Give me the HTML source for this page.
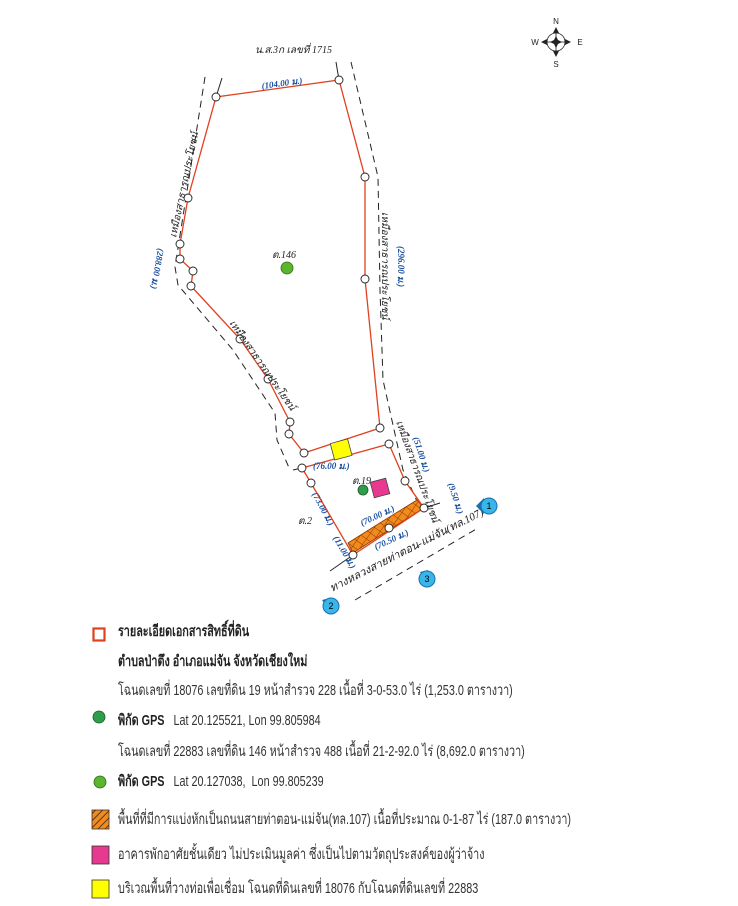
<!DOCTYPE html>
<html><head><meta charset="utf-8"><style>
html,body{margin:0;padding:0;background:#fff;}
body{width:738px;height:906px;position:relative;overflow:hidden;font-family:"Liberation Sans",sans-serif;}
svg{position:absolute;left:0;top:0;}
.lg{position:absolute;left:118px;font-size:15px;color:#333;white-space:nowrap;line-height:16px;transform:scaleX(0.72);transform-origin:0 0;}
.b{font-weight:bold;color:#222;}
</style></head><body>
<svg width="738" height="906" viewBox="0 0 738 906">
<defs>
<pattern id="hx" width="7" height="7" patternUnits="userSpaceOnUse" patternTransform="rotate(35)">
<rect width="7" height="7" fill="#f28a1e"/>
<path d="M0 0L7 0M0 0L0 7" stroke="#8a3a00" stroke-width="1"/>
</pattern>
<pattern id="lh" width="5" height="5" patternUnits="userSpaceOnUse" patternTransform="rotate(45)">
<rect width="5" height="5" fill="#f28a1e"/><path d="M0 0L0 5" stroke="#222" stroke-width="1.5"/>
</pattern>
</defs>
<g fill="none" stroke="#222" stroke-width="1" stroke-dasharray="7,5">
<polyline points="205,77 175,267 178,285 233,350 275,413 277,440 290,470"/>
<polyline points="351,62 378,177 380,290 383,380 403,470 420,508"/>
<line x1="355" y1="600" x2="478" y2="528"/>
</g>
<g stroke="#222" stroke-width="1" fill="none">
<line x1="216" y1="97" x2="222" y2="78"/>
<line x1="339" y1="80" x2="336" y2="62"/>
<line x1="330" y1="571" x2="353" y2="555"/>
<line x1="424" y1="508" x2="440" y2="503"/>
<line x1="302" y1="468" x2="293" y2="470"/>
</g>
<path d="M348,543 Q386,519 417,500 L424,508 Q390,529 353,553 Z" fill="url(#hx)" stroke="#8a3a00" stroke-width="0.8"/>
<g fill="none" stroke="#e0411f" stroke-width="1.3">
<polyline points="304,453 289,434 290,422 268,379 240,339 191,286 193,271 180,259 180,244 188,198 216,97 339,80 365,177 365,279 380,428 304,453"/>
<polyline points="302,468 389,444 405,481 424,508 353,555 311,483 302,468"/>
</g>
<rect x="332" y="441" width="18" height="17" fill="#ffff00" stroke="#444" stroke-width="0.8" transform="rotate(-15 341 449)"/>
<rect x="372" y="480" width="16" height="16" fill="#e6398f" stroke="#444" stroke-width="0.8" transform="rotate(-15 380 488)"/>
<circle cx="287" cy="268" r="6" fill="#5bb52e" stroke="#2d6b15" stroke-width="0.8"/>
<circle cx="363" cy="490" r="5" fill="#2f9e4a" stroke="#1a5a2a" stroke-width="0.8"/>
<g fill="#fff" stroke="#222" stroke-width="0.9">
<circle cx="216" cy="97" r="4"/><circle cx="339" cy="80" r="4"/><circle cx="365" cy="177" r="4"/>
<circle cx="365" cy="279" r="4"/><circle cx="188" cy="198" r="4"/><circle cx="180" cy="244" r="4"/>
<circle cx="180" cy="259" r="4"/><circle cx="193" cy="271" r="4"/><circle cx="191" cy="286" r="4"/>
<circle cx="240" cy="339" r="4"/><circle cx="268" cy="379" r="4"/><circle cx="290" cy="422" r="4"/>
<circle cx="289" cy="434" r="4"/><circle cx="304" cy="453" r="4"/><circle cx="380" cy="428" r="4"/>
<circle cx="389" cy="444" r="4"/><circle cx="302" cy="468" r="4"/><circle cx="311" cy="483" r="4"/>
<circle cx="405" cy="481" r="4"/><circle cx="424" cy="508" r="4"/><circle cx="389" cy="528" r="4"/>
<circle cx="353" cy="555" r="4"/>
</g>
<g font-family="Liberation Serif,serif" font-style="italic" font-size="10" fill="#222">
<text x="255" y="53">น.ส.3ก เลขที่ 1715</text>
<text x="272" y="258">ต.146</text>
<text x="352" y="484">ต.19</text>
<text x="298" y="524">ต.2</text>
<text transform="translate(176,238) rotate(-78)">เหมืองสาธารณประโยชน์</text>
<text transform="translate(382,212) rotate(90)">เหมืองสาธารณประโยชน์</text>
<text transform="translate(229,323) rotate(55)">เหมืองสาธารณประโยชน์</text>
<text transform="translate(396,422) rotate(70)">เหมืองสาธารณประโยชน์</text>
<text transform="translate(332,592) rotate(-27)" font-size="11">ทางหลวงสายท่าตอน-แม่จัน(ทล.107)</text>
</g>
<g font-family="Liberation Serif,serif" font-style="italic" font-weight="bold" font-size="9" fill="#1a4fa0">
<text transform="translate(262,89) rotate(-8)">(104.00 ม.)</text>
<text transform="translate(158,248) rotate(100)">(288.00 ม.)</text>
<text transform="translate(398,246) rotate(90)">(296.00 ม.)</text>
<text x="313" y="469">(76.00 ม.)</text>
<text transform="translate(413,438) rotate(72)">(51.00 ม.)</text>
<text transform="translate(448,484) rotate(72)">(9.50 ม.)</text>
<text transform="translate(312,494) rotate(62)">(73.00 ม.)</text>
<text transform="translate(333,538) rotate(60)">(11.00 ม.)</text>
<text transform="translate(362,526) rotate(-25)">(70.00 ม.)</text>
<text transform="translate(376,550) rotate(-25)">(70.50 ม.)</text>
</g>
<g font-family="Liberation Sans,sans-serif" font-size="9" text-anchor="middle">
<path d="M476,506 L484,498 L484,514 Z" fill="#1a6fb0"/><circle cx="489" cy="506" r="8" fill="#38b6ea" stroke="#1a6fb0"/><text x="489" y="509">1</text>
<path d="M322,600 L330,598 L326,606 Z" fill="#1a6fb0"/><circle cx="331" cy="606" r="8" fill="#38b6ea" stroke="#1a6fb0"/><text x="331" y="609">2</text>
<path d="M420,572 L428,570 L424,578 Z" fill="#1a6fb0"/><circle cx="427" cy="579" r="8" fill="#38b6ea" stroke="#1a6fb0"/><text x="427" y="582">3</text>
</g>
<g font-family="Liberation Sans,sans-serif" font-size="8" fill="#222" text-anchor="middle">
<circle cx="556" cy="42" r="9" fill="none" stroke="#222" stroke-width="0.8"/>
<line x1="547" y1="42" x2="565" y2="42" stroke="#222" stroke-width="0.8"/>
<line x1="556" y1="33" x2="556" y2="51" stroke="#222" stroke-width="0.8"/>
<path d="M556,36 L559,42 L556,48 L553,42 Z M550,42 L556,39 L562,42 L556,45Z" fill="#222"/>
<path d="M556,27 L559,33 L553,33Z M556,57 L559,51 L553,51Z M541,42 L547,39 L547,45Z M571,42 L565,39 L565,45Z" fill="#222"/>
<text x="556" y="24">N</text><text x="556" y="67">S</text>
<text x="535" y="45">W</text><text x="580" y="45">E</text>
</g>
<rect x="93.5" y="628.5" width="11" height="12" fill="#fff" stroke="#e0411f" stroke-width="2.2"/>
<circle cx="99" cy="717" r="6" fill="#2f9e4a" stroke="#1a5a2a" stroke-width="0.8"/>
<circle cx="100" cy="782" r="6" fill="#5bb52e" stroke="#2d6b15" stroke-width="0.8"/>
<rect x="92" y="810" width="17" height="19" fill="url(#lh)" stroke="#333" stroke-width="0.8"/>
<rect x="92" y="846" width="17" height="18" fill="#e6398f" stroke="#333" stroke-width="0.8"/>
<rect x="92" y="880" width="17" height="18" fill="#ffff00" stroke="#333" stroke-width="0.8"/>
</svg>
<div class="lg b" style="top:624px">รายละเอียดเอกสารสิทธิ์ที่ดิน</div>
<div class="lg b" style="top:654px">ตำบลป่าตึง อำเภอแม่จัน จังหวัดเชียงใหม่</div>
<div class="lg" style="top:683px">โฉนดเลขที่ 18076 เลขที่ดิน 19 หน้าสำรวจ 228 เนื้อที่ 3-0-53.0 ไร่ (1,253.0 ตารางวา)</div>
<div class="lg" style="top:713px"><span class="b">พิกัด GPS</span>&nbsp;&nbsp; Lat 20.125521, Lon 99.805984</div>
<div class="lg" style="top:744px">โฉนดเลขที่ 22883 เลขที่ดิน 146 หน้าสำรวจ 488 เนื้อที่ 21-2-92.0 ไร่ (8,692.0 ตารางวา)</div>
<div class="lg" style="top:774px"><span class="b">พิกัด GPS</span>&nbsp;&nbsp; Lat 20.127038,&nbsp; Lon 99.805239</div>
<div class="lg" style="top:812px">พื้นที่ที่มีการแบ่งหักเป็นถนนสายท่าตอน-แม่จัน(ทล.107) เนื้อที่ประมาณ 0-1-87 ไร่ (187.0 ตารางวา)</div>
<div class="lg" style="top:847px">อาคารพักอาศัยชั้นเดียว ไม่ประเมินมูลค่า ซึ่งเป็นไปตามวัตถุประสงค์ของผู้ว่าจ้าง</div>
<div class="lg" style="top:881px">บริเวณพื้นที่วางท่อเพื่อเชื่อม โฉนดที่ดินเลขที่ 18076 กับโฉนดที่ดินเลขที่ 22883</div>
</body></html>
